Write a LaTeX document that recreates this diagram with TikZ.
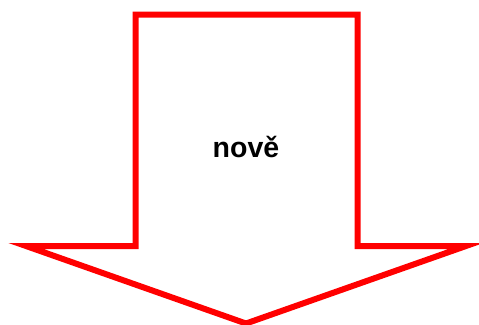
\documentclass[tikz,border=0pt]{standalone}
\usepackage{fontspec}
\setmainfont{Liberation Sans}
\begin{document}
\begin{tikzpicture}[x=1pt,y=-1pt,
  arrowline/.style={draw=red,line width=6pt,line join=miter,miter limit=20},
  lbl/.style={font=\fontsize{28.5}{32}\selectfont\bfseries,text=black,inner sep=0pt}]
\useasboundingbox (0,0) rectangle (479,324);
\coordinate (tl) at (135.5,14.5);
\coordinate (tr) at (357.5,14.5);
\coordinate (br) at (357.5,246);
\coordinate (rt) at (466,246);
\coordinate (tip) at (246,323.5);
\coordinate (lt) at (26,246);
\coordinate (bl) at (135.5,246);
\draw[arrowline] (tl) -- (tr) -- (br) -- (rt) -- (tip) -- (lt) -- (bl) -- cycle;
\node[lbl] (t) at (246,147) {nově};
\end{tikzpicture}
\end{document}
